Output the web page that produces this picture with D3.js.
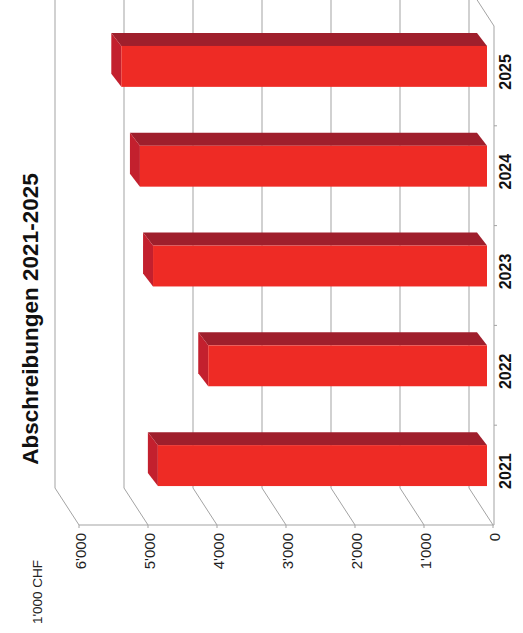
<!DOCTYPE html>
<html lang="de">
<head>
	<meta charset="UTF-8">
	<script src="https://d3js.org/d3.v7.min.js"></script>
	<title>Abschreibungen 2021-2025</title>
	<style>
		body { margin: 0; background: #fff; }
		svg { display: block; }
		.lbl { font-family: 'Liberation Sans Narrow', 'Arial Narrow', 'Liberation Sans', Arial, sans-serif; }
	</style>
</head>
<body>
	<svg width="523" height="633"></svg>

	<script>
		// data
		const years = ['2021', '2022', '2023', '2024', '2025'];
		const values = [4770, 4040, 4840, 5030, 5300];
		const valueTicks = [0, 1000, 2000, 3000, 4000, 5000, 6000];
		const title = 'Abschreibungen 2021-2025';
		const unit = "1'000 CHF";

		const svg = d3.select('svg');
		const fmt = d3.formatLocale({ decimal: '.', thousands: "'", grouping: [3], currency: ['', ''] }).format(',');

		// chart is drawn turned on its side: values run right -> left
		const x = d3.scaleLinear().domain([0, 6000]).range([493, 79]);
		const y = d3.scaleBand().domain(years.slice().reverse()).range([26, 525]);

		const depth = { x: -24, y: -37 };    // floor depth
		const barOff = { x: -6, y: -9 };     // bar front plane
		const barDepth = { x: -10, y: -13 };
		const floorY = 525;
		const axisX = 494;
		const grey = '#a3a3a3';

		// back wall gridlines
		svg.append('g')
			.selectAll('line')
			.data(valueTicks)
			.enter()
			.append('line')
			.attr('x1', d => x(d) + depth.x)
			.attr('x2', d => x(d) + depth.x)
			.attr('y1', floorY + depth.y)
			.attr('y2', -20)
			.attr('stroke', grey);

		// floor diagonals
		svg.append('g')
			.selectAll('line')
			.data(valueTicks)
			.enter()
			.append('line')
			.attr('x1', d => x(d))
			.attr('y1', floorY)
			.attr('x2', d => x(d) + depth.x)
			.attr('y2', floorY + depth.y)
			.attr('stroke', grey);

		// front floor line + ticks
		svg.append('line')
			.attr('x1', x(6000)).attr('x2', axisX)
			.attr('y1', floorY).attr('y2', floorY)
			.attr('stroke', grey);
		svg.append('g')
			.selectAll('line')
			.data(valueTicks)
			.enter()
			.append('line')
			.attr('x1', d => x(d)).attr('x2', d => x(d))
			.attr('y1', floorY).attr('y2', floorY + 3)
			.attr('stroke', grey);

		// category axis (right)
		svg.append('line')
			.attr('x1', axisX).attr('x2', axisX)
			.attr('y1', y.range()[0]).attr('y2', floorY)
			.attr('stroke', grey);
		svg.append('line')
			.attr('x1', axisX).attr('y1', y.range()[0])
			.attr('x2', axisX + depth.x).attr('y2', y.range()[0] + depth.y)
			.attr('stroke', grey);
		svg.append('g')
			.selectAll('line')
			.data(years.slice(1))
			.enter()
			.append('line')
			.attr('x1', axisX).attr('x2', axisX + 3)
			.attr('y1', d => y(d) + y.bandwidth()).attr('y2', d => y(d) + y.bandwidth())
			.attr('stroke', grey);

		// bars
		const bh = y.bandwidth() * 0.41;
		const bars = svg.append('g')
			.selectAll('g')
			.data(years.map((d, i) => ({ year: d, value: values[i] })))
			.enter()
			.append('g');

		const geo = d => {
			const xl = x(d.value) + barOff.x, xr = x(0) + barOff.x;
			const cy = y(d.year) + y.bandwidth() / 2 + barOff.y - 0.5;
			return { xl, xr, yt: cy - bh / 2, yb: cy + bh / 2 };
		};

		bars.append('path')
			.attr('fill', '#9f1f2c')
			.attr('d', d => {
				const g = geo(d);
				return `M${g.xl},${g.yt}L${g.xr},${g.yt}L${g.xr + barDepth.x},${g.yt + barDepth.y}L${g.xl + barDepth.x},${g.yt + barDepth.y}Z`;
			});
		bars.append('path')
			.attr('fill', '#c3202e')
			.attr('d', d => {
				const g = geo(d);
				return `M${g.xl},${g.yt}L${g.xl + barDepth.x},${g.yt + barDepth.y}L${g.xl + barDepth.x},${g.yb + barDepth.y}L${g.xl},${g.yb}Z`;
			});
		bars.append('rect')
			.attr('fill', '#ee2b25')
			.attr('x', d => geo(d).xl)
			.attr('y', d => geo(d).yt)
			.attr('width', d => geo(d).xr - geo(d).xl)
			.attr('height', bh);

		// value labels
		svg.append('g')
			.selectAll('text')
			.data(valueTicks)
			.enter()
			.append('text')
			.attr('class', 'lbl')
			.attr('transform', d => `translate(${x(d) + 2},533) rotate(-90)`)
			.attr('text-anchor', 'end')
			.attr('dy', '0.35em')
			.attr('font-size', 15)
			.attr('fill', '#222')
			.text(d => fmt(d));

		svg.append('text')
			.attr('class', 'lbl')
			.attr('transform', 'translate(37,560) rotate(-90)')
			.attr('text-anchor', 'end')
			.attr('dy', '0.35em')
			.attr('font-size', 13.5)
			.attr('fill', '#222')
			.text(unit);

		// year labels
		svg.append('g')
			.selectAll('text')
			.data(years)
			.enter()
			.append('text')
			.attr('class', 'lbl')
			.attr('transform', d => `translate(505,${y(d) + y.bandwidth() / 2 - 4}) rotate(-90)`)
			.attr('text-anchor', 'middle')
			.attr('dy', '0.35em')
			.attr('font-size', 16)
			.attr('font-weight', 'bold')
			.attr('fill', '#111')
			.text(d => d);

		// title
		svg.append('text')
			.attr('transform', 'translate(38,319) rotate(-90)')
			.attr('text-anchor', 'middle')
			.attr('font-family', "'Liberation Sans', Arial, sans-serif")
			.attr('font-size', 22.5)
			.attr('font-weight', 'bold')
			.attr('fill', '#111')
			.text(title);
	</script>
</body>
</html>
